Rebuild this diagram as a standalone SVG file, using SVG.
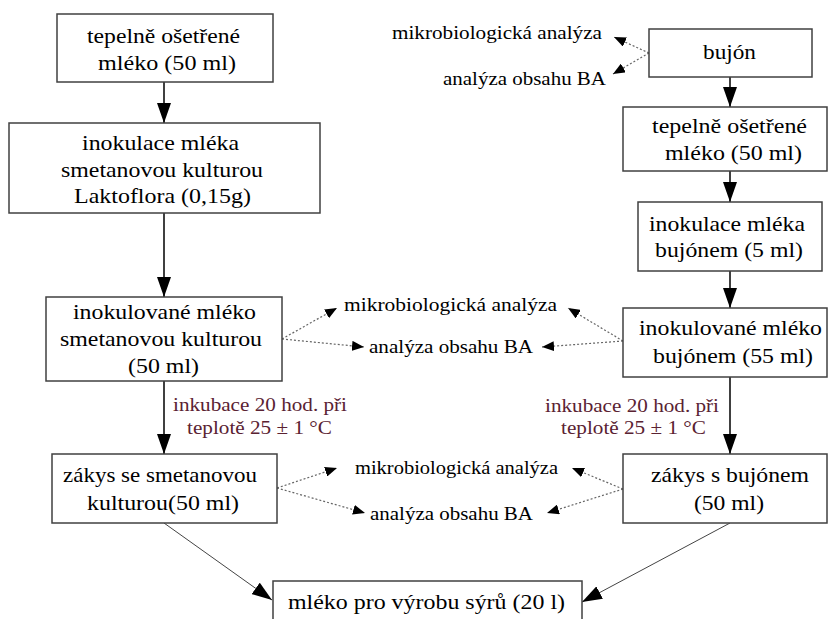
<svg xmlns="http://www.w3.org/2000/svg" width="828" height="619" viewBox="0 0 828 619" font-family="Liberation Serif, DejaVu Serif, serif">
<style>
  .box { fill: #ffffff; stroke: #404040; stroke-width: 1.5; }
  .t { font-size: 21px; fill: #000; }
  .s { font-size: 18px; fill: #000; }
  .inc { font-size: 18px; fill: #5a2232; }
  .solid { stroke: #000; stroke-width: 1.5; fill: none; marker-end: url(#ah); }
  .diag { stroke: #444; stroke-width: 1; fill: none; marker-end: url(#ah); }
  .dot { stroke: #666; stroke-width: 1.2; stroke-dasharray: 2 2; fill: none; marker-end: url(#sh); }
</style>
<defs>
  <marker id="ah" markerUnits="userSpaceOnUse" markerWidth="20" markerHeight="14" refX="20" refY="7" orient="auto">
    <path d="M0,0 L20,7 L0,14 z" fill="#000"/>
  </marker>
  <marker id="sh" markerUnits="userSpaceOnUse" markerWidth="12" markerHeight="10" refX="12" refY="5" orient="auto">
    <path d="M0,0 L12,5 L0,10 z" fill="#000"/>
  </marker>
</defs>
<rect width="828" height="619" fill="#ffffff"/>

<g id="connectors">
  <line class="solid" x1="164" y1="82" x2="164" y2="123"/>
  <line class="solid" x1="164" y1="213" x2="164" y2="297"/>
  <line class="solid" x1="164" y1="381" x2="164" y2="454"/>
  <line class="solid" x1="730" y1="77" x2="730" y2="107"/>
  <line class="solid" x1="730" y1="171" x2="730" y2="202"/>
  <line class="solid" x1="730" y1="271" x2="730" y2="308"/>
  <line class="solid" x1="730" y1="377" x2="730" y2="454"/>
  <line class="diag" x1="164" y1="523" x2="272" y2="600"/>
  <line class="diag" x1="730" y1="523" x2="582" y2="602"/>
  <line class="dot" x1="649" y1="53" x2="614" y2="37"/>
  <line class="dot" x1="649" y1="53" x2="613" y2="74"/>
  <line class="dot" x1="282" y1="339" x2="337" y2="308"/>
  <line class="dot" x1="282" y1="339" x2="364" y2="347"/>
  <line class="dot" x1="623" y1="341" x2="568" y2="308"/>
  <line class="dot" x1="623" y1="341" x2="542" y2="347"/>
  <line class="dot" x1="277" y1="488" x2="337" y2="468"/>
  <line class="dot" x1="277" y1="488" x2="365" y2="513"/>
  <line class="dot" x1="623" y1="489" x2="572" y2="468"/>
  <line class="dot" x1="623" y1="489" x2="547" y2="513"/>
</g>

<g id="n_tepelne_l">
  <rect class="box" x="57" y="14" width="216" height="68"/>
  <text class="t" x="87" y="43" textLength="153" lengthAdjust="spacingAndGlyphs">tepelně ošetřené</text>
  <text class="t" x="98" y="70" textLength="138" lengthAdjust="spacingAndGlyphs">mléko (50 ml)</text>
</g>
<g id="n_inokulace_l">
  <rect class="box" x="9" y="123" width="311" height="90"/>
  <text class="t" x="82" y="150" textLength="157" lengthAdjust="spacingAndGlyphs">inokulace mléka</text>
  <text class="t" x="61" y="177" textLength="202" lengthAdjust="spacingAndGlyphs">smetanovou kulturou</text>
  <text class="t" x="74" y="203" textLength="177" lengthAdjust="spacingAndGlyphs">Laktoflora (0,15g)</text>
</g>
<g id="n_inokulovane_l">
  <rect class="box" x="46" y="297" width="236" height="84"/>
  <text class="t" x="73" y="319" textLength="183" lengthAdjust="spacingAndGlyphs">inokulované mléko</text>
  <text class="t" x="60" y="346" textLength="202" lengthAdjust="spacingAndGlyphs">smetanovou kulturou</text>
  <text class="t" x="128" y="373" textLength="71" lengthAdjust="spacingAndGlyphs">(50 ml)</text>
</g>
<g id="n_zakys_l">
  <rect class="box" x="52" y="454" width="225" height="69"/>
  <text class="t" x="63" y="482" textLength="194" lengthAdjust="spacingAndGlyphs">zákys se smetanovou</text>
  <text class="t" x="87" y="510" textLength="152" lengthAdjust="spacingAndGlyphs">kulturou(50 ml)</text>
</g>
<g id="lbl_inkubace_l">
  <text class="inc" x="173" y="411" textLength="174" lengthAdjust="spacingAndGlyphs">inkubace 20 hod. při</text>
  <text class="inc" x="187" y="434" textLength="145" lengthAdjust="spacingAndGlyphs">teplotě 25 ± 1 °C</text>
</g>

<g id="n_bujon">
  <rect class="box" x="649" y="29" width="163" height="48"/>
  <text class="t" x="703" y="59" textLength="53" lengthAdjust="spacingAndGlyphs">bujón</text>
</g>
<g id="n_tepelne_r">
  <rect class="box" x="623" y="107" width="204" height="64"/>
  <text class="t" x="652" y="133" textLength="155" lengthAdjust="spacingAndGlyphs">tepelně ošetřené</text>
  <text class="t" x="665" y="160" textLength="137" lengthAdjust="spacingAndGlyphs">mléko (50 ml)</text>
</g>
<g id="n_inokulace_r">
  <rect class="box" x="638" y="202" width="184" height="69"/>
  <text class="t" x="649" y="231" textLength="156" lengthAdjust="spacingAndGlyphs">inokulace mléka</text>
  <text class="t" x="655" y="257" textLength="148" lengthAdjust="spacingAndGlyphs">bujónem (5 ml)</text>
</g>
<g id="n_inokulovane_r">
  <rect class="box" x="623" y="308" width="204" height="69"/>
  <text class="t" x="639" y="335" textLength="183" lengthAdjust="spacingAndGlyphs">inokulované mléko</text>
  <text class="t" x="653" y="363" textLength="160" lengthAdjust="spacingAndGlyphs">bujónem (55 ml)</text>
</g>
<g id="lbl_inkubace_r">
  <text class="inc" x="545" y="412" textLength="174" lengthAdjust="spacingAndGlyphs">inkubace 20 hod. při</text>
  <text class="inc" x="561" y="434" textLength="145" lengthAdjust="spacingAndGlyphs">teplotě 25 ± 1 °C</text>
</g>
<g id="n_zakys_r">
  <rect class="box" x="623" y="454" width="204" height="69"/>
  <text class="t" x="651" y="482" textLength="158" lengthAdjust="spacingAndGlyphs">zákys s bujónem</text>
  <text class="t" x="694" y="510" textLength="70" lengthAdjust="spacingAndGlyphs">(50 ml)</text>
</g>

<g id="n_mleko_syry">
  <rect class="box" x="273" y="581" width="309" height="50"/>
  <text class="t" x="288" y="609" textLength="277" lengthAdjust="spacingAndGlyphs">mléko pro výrobu sýrů (20 l)</text>
</g>

<g id="n_analyzy_top">
  <text class="s" x="392" y="39" textLength="210" lengthAdjust="spacingAndGlyphs">mikrobiologická analýza</text>
  <text class="s" x="443" y="85" textLength="163" lengthAdjust="spacingAndGlyphs">analýza obsahu BA</text>
</g>
<g id="n_analyzy_mid">
  <text class="s" x="344" y="311" textLength="213" lengthAdjust="spacingAndGlyphs">mikrobiologická analýza</text>
  <text class="s" x="369" y="353" textLength="164" lengthAdjust="spacingAndGlyphs">analýza obsahu BA</text>
</g>
<g id="n_analyzy_low">
  <text class="s" x="355" y="474" textLength="203" lengthAdjust="spacingAndGlyphs">mikrobiologická analýza</text>
  <text class="s" x="370" y="520" textLength="163" lengthAdjust="spacingAndGlyphs">analýza obsahu BA</text>
</g>
</svg>
